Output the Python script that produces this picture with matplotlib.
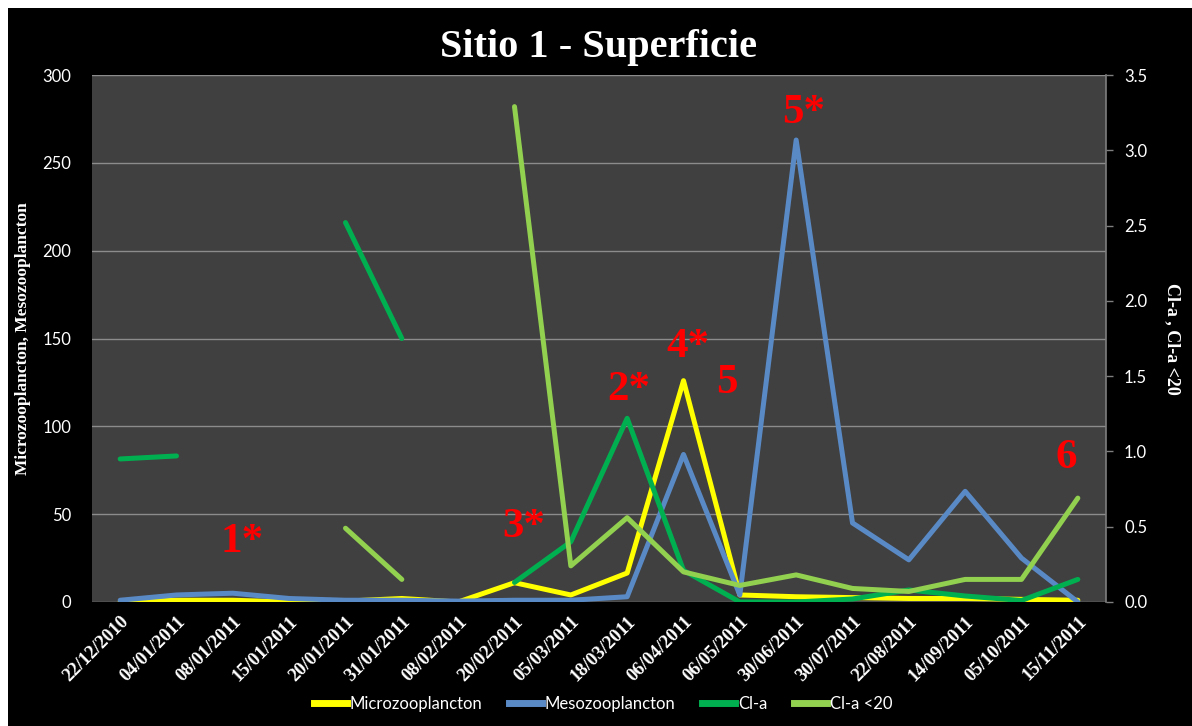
import numpy as np
import matplotlib
matplotlib.use("Agg")
import matplotlib.pyplot as plt
from matplotlib.patches import Rectangle
from matplotlib.lines import Line2D

# --- data -------------------------------------------------------------
dates = ["22/12/2010", "04/01/2011", "08/01/2011", "15/01/2011", "20/01/2011",
         "31/01/2011", "08/02/2011", "20/02/2011", "05/03/2011", "18/03/2011",
         "06/04/2011", "06/05/2011", "30/06/2011", "30/07/2011", "22/08/2011",
         "14/09/2011", "05/10/2011", "15/11/2011"]

micro = [0, 1, 1, 0, 0.5, 2, 0, 11, 4, 16.5, 126, 4, 3, 2.5, 2, 2, 1.5, 1]
meso = [1, 4, 5, 2, 1, 1, 0.5, 1, 1, 3, 84, 4, 263, 45, 24, 63, 25, 0]
nan = np.nan
cla = [0.95, 0.97, nan, nan, 2.52, 1.75, nan, 0.13, 0.40, 1.22, 0.21,
       0.0, 0.0, 0.02, 0.08, 0.04, 0.01, 0.15]
cla20 = [nan, nan, nan, nan, 0.49, 0.15, nan, 3.29, 0.24, 0.56, 0.20,
         0.11, 0.18, 0.09, 0.07, 0.15, 0.15, 0.69]

left_ticks = [0, 50, 100, 150, 200, 250, 300]
right_ticks = [0.0, 0.5, 1.0, 1.5, 2.0, 2.5, 3.0, 3.5]

# (label, x category position, left-axis baseline value)
notes = [("1*", 2.16, 28.5), ("3*", 7.17, 37.0), ("2*", 9.03, 115.0),
         ("4*", 10.08, 139.5), ("5", 10.77, 119.0), ("5*", 12.14, 272.7),
         ("6", 16.79, 76.3)]

# --- styling ----------------------------------------------------------
SERIF = "Liberation Serif"
SANS = "Lato"
C_MICRO = "#FFFF00"
C_MESO = "#5A8AC6"
C_CLA = "#00B050"
C_CLA20 = "#92D050"
LW = 3.6

W, H = 1192, 726
fig = plt.figure(figsize=(W / 100, H / 100), dpi=100, facecolor="white")
fig.patches.append(Rectangle((8 / W, 0), 1, 1 - 8 / H, transform=fig.transFigure,
                             facecolor="black", edgecolor="none", zorder=-10))

ax = fig.add_axes([92 / W, 1 - 602 / H, (1106 - 92) / W, (602 - 75) / H])
ax.set_facecolor("#404040")
ax2 = ax.twinx()

x = np.arange(len(dates))
line_kw = dict(lw=LW, solid_capstyle="round", solid_joinstyle="round")
ax.plot(x, micro, color=C_MICRO, label="Microzooplancton", **line_kw)
ax.plot(x, meso, color=C_MESO, label="Mesozooplancton", **line_kw)
ax2.plot(x, cla, color=C_CLA, label="Cl-a", **line_kw)
ax2.plot(x, cla20, color=C_CLA20, label="Cl-a <20", **line_kw)

ax.set_xlim(-0.5, len(dates) - 0.5)
ax.set_ylim(0, 300)
ax2.set_ylim(0, 3.5)

ax.set_yticks(left_ticks)
ax.set_yticklabels([str(t) for t in left_ticks])
ax2.set_yticks(right_ticks)
ax2.set_yticklabels([f"{t:.1f}" for t in right_ticks])

ax.grid(axis="y", color="#8C8C8C", lw=1.0)
ax.set_axisbelow(True)

for a in (ax, ax2):
    for s in a.spines.values():
        s.set_visible(False)
ax2.spines["right"].set_visible(True)
ax2.spines["right"].set_color("#7F7F7F")
ax2.spines["right"].set_linewidth(1.2)

ax.tick_params(axis="y", length=0, pad=15, colors="white", labelsize=12)
ax2.tick_params(axis="y", length=5, width=1, color="#7F7F7F", pad=8,
                labelcolor="white", labelsize=12)
for lab in ax.get_yticklabels() + ax2.get_yticklabels():
    lab.set_family(SANS)

ax.set_xticks(x)
ax.set_xticklabels(dates, rotation=45, ha="right", rotation_mode="anchor",
                   family=SERIF, weight="bold", fontsize=13.5, color="white")
ax.tick_params(axis="x", length=0, pad=8)

ax.set_ylabel("Microzooplancton, Mesozooplancton", family=SERIF, weight="bold",
              fontsize=12.5, color="white", labelpad=8)
ax2.set_ylabel("Cl-a , Cl-a <20", family=SERIF, weight="bold", fontsize=13,
               color="white", rotation=270, labelpad=24)

fig.text(598 / W, 1 - 57 / H, "Sitio 1 - Superficie", ha="center", va="baseline",
         family=SERIF, weight="bold", fontsize=29, color="white")

for txt, xp, yp in notes:
    ax2.text(xp, yp * 3.5 / 300, txt, ha="center", va="baseline", family=SERIF,
             weight="bold", fontsize=31, color="#FF0000", zorder=5)

handles = [Line2D([], [], color=c, lw=5) for c in (C_MICRO, C_MESO, C_CLA, C_CLA20)]
labels = ["Microzooplancton", "Mesozooplancton", "Cl-a", "Cl-a <20"]
leg = fig.legend(handles, labels, loc="center", bbox_to_anchor=(603 / W, 1 - 704 / H),
                 ncol=4, frameon=False, prop={"family": SANS, "size": 12},
                 handlelength=2.0, handletextpad=0.15, columnspacing=1.6)
for t in leg.get_texts():
    t.set_color("white")

fig.savefig("out.png", dpi=100, facecolor=fig.get_facecolor())
